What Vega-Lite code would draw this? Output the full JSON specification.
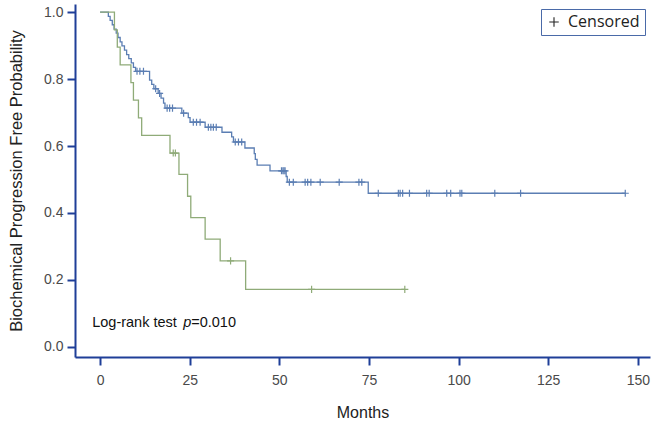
{
  "$schema": "https://vega.github.io/schema/vega-lite/v6.json",
  "width": 575,
  "height": 353,
  "autosize": "none",
  "padding": {"left": 75, "top": 4, "right": 3, "bottom": 70},
  "background": "white",
  "config": {
    "view": {"stroke": null},
    "font": "Liberation Sans",
    "axis": {
      "grid": false,
      "domainColor": "#1f3f98",
      "domainWidth": 2,
      "tickColor": "#1f3f98",
      "tickWidth": 2,
      "tickSize": 8,
      "labelFont": "Liberation Sans",
      "labelFontSize": 14,
      "labelColor": "#4a4a4a",
      "titleFont": "Liberation Sans",
      "titleFontWeight": "normal",
      "titleColor": "#222222"
    }
  },
  "data": {
    "values": [
      {"g": "A", "t": 0, "s": 1, "c": 0},
      {"g": "A", "t": 2.3, "s": 0.987, "c": 0},
      {"g": "A", "t": 2.8, "s": 0.975, "c": 0},
      {"g": "A", "t": 3.4, "s": 0.962, "c": 0},
      {"g": "A", "t": 3.9, "s": 0.949, "c": 0},
      {"g": "A", "t": 4.5, "s": 0.937, "c": 0},
      {"g": "A", "t": 5.0, "s": 0.924, "c": 0},
      {"g": "A", "t": 5.6, "s": 0.911, "c": 0},
      {"g": "A", "t": 6.1, "s": 0.899, "c": 0},
      {"g": "A", "t": 6.8, "s": 0.886, "c": 0},
      {"g": "A", "t": 7.4, "s": 0.873, "c": 0},
      {"g": "A", "t": 8.0, "s": 0.861, "c": 0},
      {"g": "A", "t": 8.7, "s": 0.848, "c": 0},
      {"g": "A", "t": 9.3, "s": 0.835, "c": 0},
      {"g": "A", "t": 9.9, "s": 0.823, "c": 0},
      {"g": "A", "t": 10.3, "s": 0.823, "c": 1},
      {"g": "A", "t": 11.1, "s": 0.823, "c": 1},
      {"g": "A", "t": 12.1, "s": 0.823, "c": 1},
      {"g": "A", "t": 13.8, "s": 0.797, "c": 0},
      {"g": "A", "t": 14.4, "s": 0.784, "c": 0},
      {"g": "A", "t": 15.0, "s": 0.771, "c": 0},
      {"g": "A", "t": 15.5, "s": 0.771, "c": 1},
      {"g": "A", "t": 16.2, "s": 0.757, "c": 0},
      {"g": "A", "t": 16.6, "s": 0.757, "c": 1},
      {"g": "A", "t": 17.0, "s": 0.743, "c": 0},
      {"g": "A", "t": 17.7, "s": 0.728, "c": 0},
      {"g": "A", "t": 18.1, "s": 0.713, "c": 0},
      {"g": "A", "t": 18.7, "s": 0.713, "c": 1},
      {"g": "A", "t": 19.4, "s": 0.713, "c": 1},
      {"g": "A", "t": 20.2, "s": 0.713, "c": 1},
      {"g": "A", "t": 22.8, "s": 0.698, "c": 0},
      {"g": "A", "t": 23.3, "s": 0.698, "c": 1},
      {"g": "A", "t": 24.6, "s": 0.685, "c": 0},
      {"g": "A", "t": 25.1, "s": 0.671, "c": 0},
      {"g": "A", "t": 26.0, "s": 0.671, "c": 1},
      {"g": "A", "t": 26.9, "s": 0.671, "c": 1},
      {"g": "A", "t": 27.9, "s": 0.671, "c": 1},
      {"g": "A", "t": 29.3, "s": 0.656, "c": 0},
      {"g": "A", "t": 30.2, "s": 0.656, "c": 1},
      {"g": "A", "t": 30.9, "s": 0.656, "c": 1},
      {"g": "A", "t": 31.6, "s": 0.656, "c": 1},
      {"g": "A", "t": 32.4, "s": 0.656, "c": 1},
      {"g": "A", "t": 34.0, "s": 0.641, "c": 0},
      {"g": "A", "t": 36.7, "s": 0.627, "c": 0},
      {"g": "A", "t": 37.2, "s": 0.612, "c": 0},
      {"g": "A", "t": 37.7, "s": 0.612, "c": 1},
      {"g": "A", "t": 38.6, "s": 0.612, "c": 1},
      {"g": "A", "t": 39.5, "s": 0.612, "c": 1},
      {"g": "A", "t": 40.4, "s": 0.594, "c": 0},
      {"g": "A", "t": 43.0, "s": 0.577, "c": 0},
      {"g": "A", "t": 43.3, "s": 0.560, "c": 0},
      {"g": "A", "t": 43.8, "s": 0.543, "c": 0},
      {"g": "A", "t": 47.4, "s": 0.526, "c": 0},
      {"g": "A", "t": 50.6, "s": 0.526, "c": 1},
      {"g": "A", "t": 51.0, "s": 0.526, "c": 1},
      {"g": "A", "t": 51.3, "s": 0.526, "c": 1},
      {"g": "A", "t": 51.6, "s": 0.526, "c": 1},
      {"g": "A", "t": 51.9, "s": 0.509, "c": 0},
      {"g": "A", "t": 52.2, "s": 0.492, "c": 0},
      {"g": "A", "t": 52.8, "s": 0.492, "c": 1},
      {"g": "A", "t": 53.9, "s": 0.492, "c": 1},
      {"g": "A", "t": 57.2, "s": 0.492, "c": 1},
      {"g": "A", "t": 57.9, "s": 0.492, "c": 1},
      {"g": "A", "t": 58.8, "s": 0.492, "c": 1},
      {"g": "A", "t": 61.4, "s": 0.492, "c": 1},
      {"g": "A", "t": 66.7, "s": 0.492, "c": 1},
      {"g": "A", "t": 72.2, "s": 0.492, "c": 1},
      {"g": "A", "t": 73.0, "s": 0.492, "c": 1},
      {"g": "A", "t": 74.8, "s": 0.459, "c": 0},
      {"g": "A", "t": 77.6, "s": 0.459, "c": 1},
      {"g": "A", "t": 83.2, "s": 0.459, "c": 1},
      {"g": "A", "t": 83.7, "s": 0.459, "c": 1},
      {"g": "A", "t": 84.4, "s": 0.459, "c": 1},
      {"g": "A", "t": 86.3, "s": 0.459, "c": 1},
      {"g": "A", "t": 91.1, "s": 0.459, "c": 1},
      {"g": "A", "t": 91.8, "s": 0.459, "c": 1},
      {"g": "A", "t": 96.7, "s": 0.459, "c": 1},
      {"g": "A", "t": 97.8, "s": 0.459, "c": 1},
      {"g": "A", "t": 100.4, "s": 0.459, "c": 1},
      {"g": "A", "t": 100.9, "s": 0.459, "c": 1},
      {"g": "A", "t": 110.1, "s": 0.459, "c": 1},
      {"g": "A", "t": 117.3, "s": 0.459, "c": 1},
      {"g": "A", "t": 146.5, "s": 0.459, "c": 1},
      {"g": "B", "t": 0, "s": 1, "c": 0},
      {"g": "B", "t": 4.0, "s": 0.947, "c": 0},
      {"g": "B", "t": 4.8, "s": 0.895, "c": 0},
      {"g": "B", "t": 5.6, "s": 0.842, "c": 0},
      {"g": "B", "t": 8.6, "s": 0.789, "c": 0},
      {"g": "B", "t": 9.3, "s": 0.737, "c": 0},
      {"g": "B", "t": 10.7, "s": 0.684, "c": 0},
      {"g": "B", "t": 11.6, "s": 0.632, "c": 0},
      {"g": "B", "t": 19.5, "s": 0.579, "c": 0},
      {"g": "B", "t": 20.4, "s": 0.579, "c": 1},
      {"g": "B", "t": 21.0, "s": 0.579, "c": 1},
      {"g": "B", "t": 22.0, "s": 0.515, "c": 0},
      {"g": "B", "t": 24.4, "s": 0.450, "c": 0},
      {"g": "B", "t": 25.3, "s": 0.386, "c": 0},
      {"g": "B", "t": 29.3, "s": 0.322, "c": 0},
      {"g": "B", "t": 33.5, "s": 0.257, "c": 0},
      {"g": "B", "t": 36.4, "s": 0.257, "c": 1},
      {"g": "B", "t": 40.6, "s": 0.172, "c": 0},
      {"g": "B", "t": 59.0, "s": 0.172, "c": 1},
      {"g": "B", "t": 85.0, "s": 0.172, "c": 1}
    ]
  },
  "encoding": {
    "x": {
      "field": "t", "type": "quantitative",
      "scale": {"domain": [-7, 153.4], "nice": false, "zero": false},
      "axis": {"values": [0, 25, 50, 75, 100, 125, 150], "title": "Months", "titleFontSize": 16, "labelPadding": 8, "titlePadding": 17}
    },
    "y": {
      "field": "s", "type": "quantitative",
      "scale": {"domain": [-0.03, 1.024], "nice": false, "zero": false},
      "axis": {"values": [0, 0.2, 0.4, 0.6, 0.8, 1.0], "format": ".1f", "title": "Biochemical Progression Free Probability", "titleFontSize": 16.5, "labelPadding": 4, "titlePadding": 19}
    },
    "color": {
      "field": "g", "type": "nominal",
      "scale": {"domain": ["A", "B"], "range": ["#5b7eb3", "#8fab78"]},
      "legend": null
    }
  },
  "layer": [
    {
      "mark": {"type": "line", "interpolate": "step-after", "strokeWidth": 1.3}
    },
    {
      "transform": [{"filter": "datum.c == 1"}],
      "mark": {"type": "point", "filled": false, "strokeWidth": 1.2, "size": 50, "opacity": 1},
      "encoding": {
        "shape": {
          "datum": "Censored",
          "scale": {"domain": ["Censored"], "range": ["M-1,0L1,0M0,-1L0,1"]},
          "legend": {
            "title": null,
            "orient": "top-right",
            "offset": 5,
            "strokeColor": "#4a6aa8",
            "fillColor": "white",
            "padding": 5,
            "labelFont": "Open Sans",
            "labelFontSize": 16,
            "labelOffset": 6,
            "labelColor": "#222222",
            "symbolStrokeColor": "#222222",
            "symbolStrokeWidth": 1.1,
            "symbolSize": 90
          }
        }
      }
    },
    {
      "transform": [{"filter": "datum.g == 'B' && datum.t == 0"}],
      "mark": {"type": "text", "align": "left", "baseline": "middle", "fontSize": 14.5, "font": "Liberation Sans", "text": "Log-rank test"},
      "encoding": {"x": {"datum": -2.2}, "y": {"datum": 0.072}, "color": {"value": "#111111"}}
    },
    {
      "transform": [{"filter": "datum.g == 'B' && datum.t == 0"}],
      "mark": {"type": "text", "align": "left", "baseline": "middle", "fontSize": 14.5, "font": "Liberation Sans", "fontStyle": "italic", "text": "p", "dx": 91},
      "encoding": {"x": {"datum": -2.2}, "y": {"datum": 0.072}, "color": {"value": "#111111"}}
    },
    {
      "transform": [{"filter": "datum.g == 'B' && datum.t == 0"}],
      "mark": {"type": "text", "align": "left", "baseline": "middle", "fontSize": 14.5, "font": "Liberation Sans", "text": "=0.010", "dx": 99},
      "encoding": {"x": {"datum": -2.2}, "y": {"datum": 0.072}, "color": {"value": "#111111"}}
    }
  ]
}
